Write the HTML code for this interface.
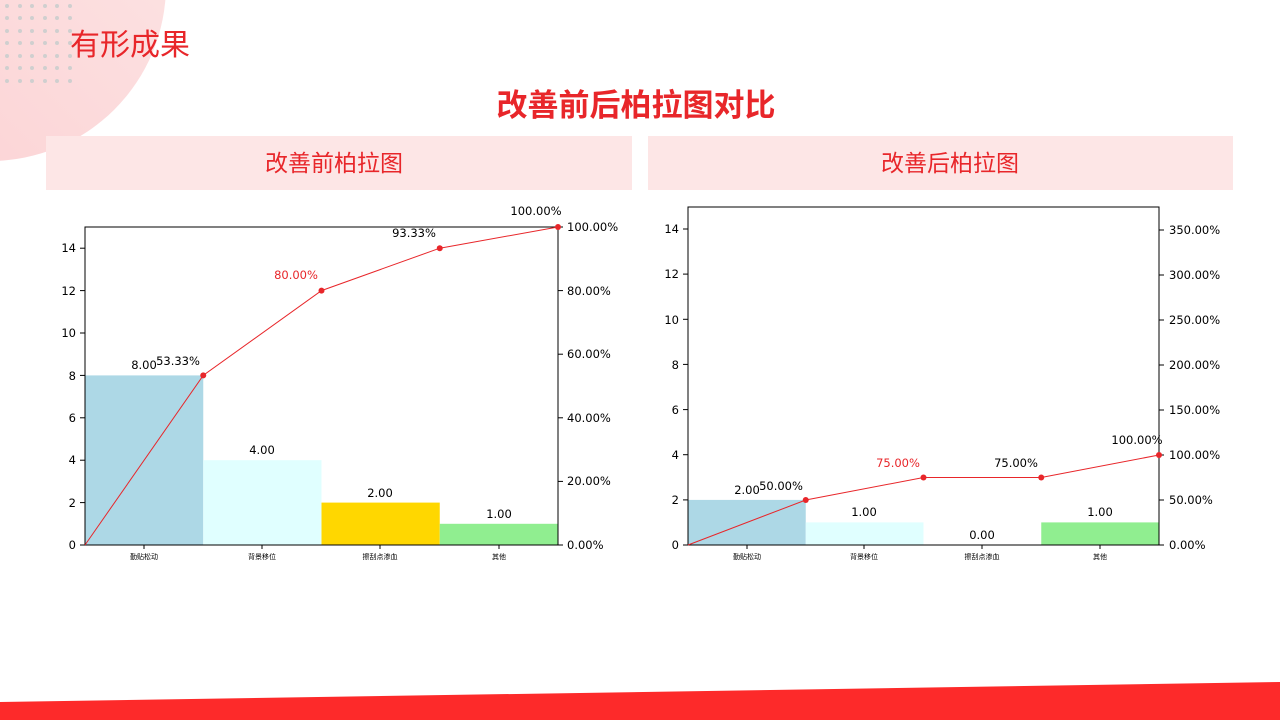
<!DOCTYPE html>
<html><head><meta charset="utf-8"><style>
body{margin:0;width:1280px;height:720px;overflow:hidden;background:#fff;font-family:"Liberation Sans","Noto Sans CJK SC",sans-serif;}
</style></head><body>
<svg width="1280" height="720" xmlns="http://www.w3.org/2000/svg" style="position:absolute;left:0;top:0">
<defs><linearGradient id="g" x1="0" y1="1" x2="1" y2="0"><stop offset="0" stop-color="#fbd0d2"/><stop offset="1" stop-color="#fde6e6"/></linearGradient></defs>
<circle cx="-10" cy="-15" r="176" fill="url(#g)"/>
<g fill="#c8c8c8" opacity="0.8">
<script>/* none */</script>
</g>
<g fill="#cfcfcf">
<circle cx="7" cy="6" r="2"/><circle cx="20" cy="6" r="2"/><circle cx="32" cy="6" r="2"/><circle cx="45" cy="6" r="2"/><circle cx="57" cy="6" r="2"/><circle cx="70" cy="6" r="2"/>
<circle cx="7" cy="18" r="2"/><circle cx="20" cy="18" r="2"/><circle cx="32" cy="18" r="2"/><circle cx="45" cy="18" r="2"/><circle cx="57" cy="18" r="2"/><circle cx="70" cy="18" r="2"/>
<circle cx="7" cy="31" r="2"/><circle cx="20" cy="31" r="2"/><circle cx="32" cy="31" r="2"/><circle cx="45" cy="31" r="2"/><circle cx="57" cy="31" r="2"/><circle cx="70" cy="31" r="2"/>
<circle cx="7" cy="43" r="2"/><circle cx="20" cy="43" r="2"/><circle cx="32" cy="43" r="2"/><circle cx="45" cy="43" r="2"/><circle cx="57" cy="43" r="2"/><circle cx="70" cy="43" r="2"/>
<circle cx="7" cy="56" r="2"/><circle cx="20" cy="56" r="2"/><circle cx="32" cy="56" r="2"/><circle cx="45" cy="56" r="2"/><circle cx="57" cy="56" r="2"/><circle cx="70" cy="56" r="2"/>
<circle cx="7" cy="68" r="2"/><circle cx="20" cy="68" r="2"/><circle cx="32" cy="68" r="2"/><circle cx="45" cy="68" r="2"/><circle cx="57" cy="68" r="2"/><circle cx="70" cy="68" r="2"/>
<circle cx="7" cy="81" r="2"/><circle cx="20" cy="81" r="2"/><circle cx="32" cy="81" r="2"/><circle cx="45" cy="81" r="2"/><circle cx="57" cy="81" r="2"/><circle cx="70" cy="81" r="2"/>
</g>
<text x="70" y="55" font-size="30" fill="#e8262a">有形成果</text>
<text x="636" y="116" font-size="31" font-weight="bold" fill="#e8262a" text-anchor="middle">改善前后柏拉图对比</text>
<rect x="46" y="136" width="586" height="54" fill="#fde6e6"/>
<rect x="648" y="136" width="585" height="54" fill="#fde6e6"/>
<text x="334" y="171" font-size="23" fill="#e8262a" text-anchor="middle">改善前柏拉图</text>
<text x="950" y="171" font-size="23" fill="#e8262a" text-anchor="middle">改善后柏拉图</text>
<polygon points="0,702 1280,682 1280,720 0,720" fill="#fd2a2a"/>

<!-- Chart 1 -->
<g font-size="11.5" fill="#000" font-family="'DejaVu Sans',sans-serif">
<rect x="85" y="375.4" width="118.25" height="169.6" fill="#add8e6"/>
<rect x="203.25" y="460.2" width="118.25" height="84.8" fill="#e0ffff"/>
<rect x="321.5" y="502.6" width="118.25" height="42.4" fill="#ffd700"/>
<rect x="439.75" y="523.8" width="118.25" height="21.2" fill="#90ee90"/>
<rect x="85" y="227" width="473" height="318" fill="none" stroke="#000" stroke-width="1"/>
<g stroke="#000"><line x1="80" y1="545" x2="85" y2="545"/><line x1="80" y1="502.6" x2="85" y2="502.6"/><line x1="80" y1="460.2" x2="85" y2="460.2"/><line x1="80" y1="417.8" x2="85" y2="417.8"/><line x1="80" y1="375.4" x2="85" y2="375.4"/><line x1="80" y1="333" x2="85" y2="333"/><line x1="80" y1="290.6" x2="85" y2="290.6"/><line x1="80" y1="248.2" x2="85" y2="248.2"/>
<line x1="558" y1="545" x2="563" y2="545"/><line x1="558" y1="481.4" x2="563" y2="481.4"/><line x1="558" y1="417.8" x2="563" y2="417.8"/><line x1="558" y1="354.2" x2="563" y2="354.2"/><line x1="558" y1="290.6" x2="563" y2="290.6"/><line x1="558" y1="227" x2="563" y2="227"/>
<line x1="144" y1="545" x2="144" y2="549"/><line x1="262" y1="545" x2="262" y2="549"/><line x1="380" y1="545" x2="380" y2="549"/><line x1="499" y1="545" x2="499" y2="549"/></g>
<g text-anchor="end"><text x="76" y="549">0</text><text x="76" y="507">2</text><text x="76" y="464">4</text><text x="76" y="422">6</text><text x="76" y="380">8</text><text x="76" y="337">10</text><text x="76" y="295">12</text><text x="76" y="252">14</text></g>
<g><text x="567" y="549">0.00%</text><text x="567" y="485">20.00%</text><text x="567" y="422">40.00%</text><text x="567" y="358">60.00%</text><text x="567" y="295">80.00%</text><text x="567" y="231">100.00%</text></g>
<g font-size="7" text-anchor="middle" font-family="'Noto Sans CJK SC',sans-serif"><text x="144" y="559">勤贴松动</text><text x="262" y="559">背景移位</text><text x="380" y="559">擦刮点渗血</text><text x="499" y="559">其他</text></g>
<g text-anchor="middle"><text x="144" y="369">8.00</text><text x="262" y="454">4.00</text><text x="380" y="497">2.00</text><text x="499" y="518">1.00</text>
<text x="178" y="365">53.33%</text><text x="296" y="279" fill="#e8262a">80.00%</text><text x="414" y="237">93.33%</text><text x="536" y="215">100.00%</text></g>
<polyline points="85,545 203.25,375.4 321.5,290.6 439.75,248.2 558,227" fill="none" stroke="#e8262a" stroke-width="1"/>
<g fill="#e8262a"><circle cx="203.25" cy="375.4" r="3"/><circle cx="321.5" cy="290.6" r="3"/><circle cx="439.75" cy="248.2" r="3"/><circle cx="558" cy="227" r="3"/></g>
</g>

<!-- Chart 2 -->
<g font-size="11.5" fill="#000" font-family="'DejaVu Sans',sans-serif">
<rect x="688" y="499.9" width="117.75" height="45.1" fill="#add8e6"/>
<rect x="805.75" y="522.4" width="117.75" height="22.6" fill="#e0ffff"/>
<rect x="1041.25" y="522.4" width="117.75" height="22.6" fill="#90ee90"/>
<rect x="688" y="207" width="471" height="338" fill="none" stroke="#000" stroke-width="1"/>
<g stroke="#000"><line x1="683" y1="545" x2="688" y2="545"/><line x1="683" y1="499.9" x2="688" y2="499.9"/><line x1="683" y1="454.7" x2="688" y2="454.7"/><line x1="683" y1="409.6" x2="688" y2="409.6"/><line x1="683" y1="364.4" x2="688" y2="364.4"/><line x1="683" y1="319.3" x2="688" y2="319.3"/><line x1="683" y1="274.1" x2="688" y2="274.1"/><line x1="683" y1="229" x2="688" y2="229"/>
<line x1="1159" y1="545" x2="1164" y2="545"/><line x1="1159" y1="500" x2="1164" y2="500"/><line x1="1159" y1="455" x2="1164" y2="455"/><line x1="1159" y1="410" x2="1164" y2="410"/><line x1="1159" y1="365" x2="1164" y2="365"/><line x1="1159" y1="320" x2="1164" y2="320"/><line x1="1159" y1="275" x2="1164" y2="275"/><line x1="1159" y1="230" x2="1164" y2="230"/>
<line x1="747" y1="545" x2="747" y2="549"/><line x1="864" y1="545" x2="864" y2="549"/><line x1="982" y1="545" x2="982" y2="549"/><line x1="1100" y1="545" x2="1100" y2="549"/></g>
<g text-anchor="end"><text x="679" y="549">0</text><text x="679" y="504">2</text><text x="679" y="459">4</text><text x="679" y="414">6</text><text x="679" y="369">8</text><text x="679" y="324">10</text><text x="679" y="278">12</text><text x="679" y="233">14</text></g>
<g><text x="1169" y="549">0.00%</text><text x="1169" y="504">50.00%</text><text x="1169" y="459">100.00%</text><text x="1169" y="414">150.00%</text><text x="1169" y="369">200.00%</text><text x="1169" y="324">250.00%</text><text x="1169" y="279">300.00%</text><text x="1169" y="234">350.00%</text></g>
<g font-size="7" text-anchor="middle" font-family="'Noto Sans CJK SC',sans-serif"><text x="747" y="559">勤贴松动</text><text x="864" y="559">背景移位</text><text x="982" y="559">擦刮点渗血</text><text x="1100" y="559">其他</text></g>
<g text-anchor="middle"><text x="747" y="494">2.00</text><text x="864" y="516">1.00</text><text x="982" y="539">0.00</text><text x="1100" y="516">1.00</text>
<text x="781" y="490">50.00%</text><text x="898" y="467" fill="#e8262a">75.00%</text><text x="1016" y="467">75.00%</text><text x="1137" y="444">100.00%</text></g>
<polyline points="688,545 805.75,500 923.5,477.5 1041.25,477.5 1159,455" fill="none" stroke="#e8262a" stroke-width="1"/>
<g fill="#e8262a"><circle cx="805.75" cy="500" r="3"/><circle cx="923.5" cy="477.5" r="3"/><circle cx="1041.25" cy="477.5" r="3"/><circle cx="1159" cy="455" r="3"/></g>
</g>
</svg>
</body></html>
